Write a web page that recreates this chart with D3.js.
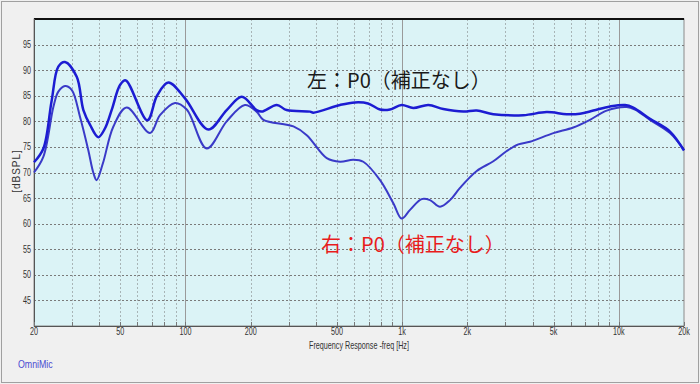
<!DOCTYPE html>
<html>
<head>
<meta charset="utf-8">
<script src="https://cdn.jsdelivr.net/npm/d3@7"></script>
<style>
  body { margin: 0; background: #f0f0f0; }
  .tick-label { font-family: "Liberation Sans", Arial, sans-serif; font-size: 10px; fill: #333; }
  .note { font-family: "Noto Sans CJK JP", sans-serif; font-size: 20px; }
</style>
</head>
<body>
<div id="chart"></div>
<script>
// 左 (upper) curve
const leftFreq = [20, 22.1, 24.1, 25.9, 27.8, 31.5, 33.8, 36.3, 39.6, 42.5, 45.8, 49.9, 53.0, 66.7, 73.9, 83.4, 99.5,
  127.5, 155, 182, 213, 225, 264, 293, 376, 389, 517, 606, 696, 791, 879, 995, 1126, 1321, 1549, 1916, 2210,
  2636, 3626, 4650, 5750, 6622, 7628, 9108, 10686, 11668, 13932, 17236, 20000];
const leftDb = [72.0, 74.7, 83.9, 90.7, 91.6, 88.7, 82.2, 79.3, 76.9, 78.6, 82.4, 87.1, 88.0, 80.2, 85.0, 87.6, 84.5,
  78.4, 82.2, 84.8, 82.2, 81.9, 83.2, 82.2, 81.9, 81.7, 83.2, 83.7, 83.5, 82.3, 82.3, 83.2, 82.6, 83.2, 82.4, 81.9, 82.1,
  81.4, 81.2, 81.8, 81.4, 81.5, 82.1, 82.9, 83.2, 82.7, 80.5, 78.0, 74.3];

// 右 (lower) curve
const rightFreq = [20, 22.1, 24.6, 25.9, 27.8, 29.9, 32.6, 35.6, 37.6, 38.9, 41.6, 46.5, 53.6, 68.6, 76.3, 89.5, 101.4,
  125.4, 155, 188, 213, 229, 315, 363, 449, 517, 595, 662, 791, 911, 995, 1088, 1231, 1345, 1496, 1664,
  1850, 2210, 2636, 3040, 3438, 3894, 4988, 6166, 7364, 8796, 10882, 11880, 13932, 17236, 20000];
const rightDb = [70.0, 73.1, 82.9, 85.8, 86.9, 86.1, 80.9, 74.4, 69.9, 68.5, 71.8, 79.0, 82.7, 77.7, 81.2, 83.6, 82.3,
  74.7, 80.0, 83.2, 81.9, 80.3, 79.0, 77.3, 72.8, 72.1, 72.5, 72.1, 68.5, 64.0, 61.0, 62.7, 64.8, 64.6, 63.3, 64.6,
  67.0, 70.3, 72.2, 74.2, 75.5, 76.0, 77.7, 78.8, 80.3, 82.1, 82.8, 82.3, 80.3, 77.7, 74.4];

const yTicks = [45, 50, 55, 60, 65, 70, 75, 80, 85, 90, 95];
const xLabelTicks = [20, 50, 100, 200, 500, 1000, 2000, 5000, 10000, 20000];
const xLabelText = ['20', '50', '100', '200', '500', '1k', '2k', '5k', '10k', '20k'];
const majorLines = [100, 1000, 10000];

const width = 700;
const height = 384;
const plot = { left: 34, right: 684, top: 19, bottom: 326 };
const narrow = 0.72;

const svg = d3.select('#chart')
  .append('svg')
  .attr('width', width)
  .attr('height', height);

svg.append('rect')
  .attr('x', 1.5).attr('y', 1.5)
  .attr('width', width - 3).attr('height', height - 3)
  .attr('fill', '#f0f0f0')
  .attr('stroke', '#a0a0a0');

const x = d3.scaleLog()
  .domain([20, 20000])
  .range([plot.left, plot.right]);

const y = d3.scaleLinear()
  .domain([40, 100])
  .range([plot.bottom, plot.top]);

svg.append('rect')
  .attr('x', plot.left).attr('y', plot.top)
  .attr('width', plot.right - plot.left)
  .attr('height', plot.bottom - plot.top)
  .attr('fill', '#dbf3f6')
  .attr('stroke', '#8a8a8a');

// vertical grid
const minorFreqs = x.ticks().filter(f => f > 20 && f < 20000 && !majorLines.includes(f));
svg.append('g')
  .selectAll('line')
  .data(minorFreqs)
  .enter().append('line')
  .attr('x1', d => Math.round(x(d)) + 0.5)
  .attr('x2', d => Math.round(x(d)) + 0.5)
  .attr('y1', plot.top)
  .attr('y2', plot.bottom)
  .attr('stroke', '#a8b4b6')
  .attr('stroke-dasharray', '2,2');

svg.append('g')
  .selectAll('line')
  .data(majorLines)
  .enter().append('line')
  .attr('x1', d => Math.round(x(d)) + 0.5)
  .attr('x2', d => Math.round(x(d)) + 0.5)
  .attr('y1', plot.top)
  .attr('y2', plot.bottom)
  .attr('stroke', '#9a9a9a');

// horizontal grid
svg.append('g')
  .selectAll('line')
  .data(yTicks)
  .enter().append('line')
  .attr('x1', plot.left)
  .attr('x2', plot.right)
  .attr('y1', d => Math.round(y(d)) + 0.5)
  .attr('y2', d => Math.round(y(d)) + 0.5)
  .attr('stroke', '#7a7a7a')
  .attr('stroke-dasharray', '2,2');

// axes lines
svg.append('line')
  .attr('x1', plot.left).attr('x2', plot.right)
  .attr('y1', plot.top).attr('y2', plot.top)
  .attr('stroke', '#111').attr('stroke-width', 2);

svg.append('line')
  .attr('x1', plot.left + 0.5).attr('x2', plot.left + 0.5)
  .attr('y1', plot.top).attr('y2', plot.bottom)
  .attr('stroke', '#555');

svg.append('line')
  .attr('x1', plot.left).attr('x2', plot.right)
  .attr('y1', plot.bottom + 0.5).attr('y2', plot.bottom + 0.5)
  .attr('stroke', '#555');

// small ticks on x axis
svg.append('g')
  .selectAll('line')
  .data(x.ticks())
  .enter().append('line')
  .attr('x1', d => Math.round(x(d)) + 0.5)
  .attr('x2', d => Math.round(x(d)) + 0.5)
  .attr('y1', plot.bottom - 4)
  .attr('y2', plot.bottom)
  .attr('stroke', '#777');

// tick labels (condensed look via horizontal scale)
svg.append('g')
  .selectAll('text')
  .data(yTicks)
  .enter().append('text')
  .attr('class', 'tick-label')
  .attr('transform', d => `translate(${plot.left - 3},${y(d) + 3.5}) scale(${narrow},1)`)
  .attr('text-anchor', 'end')
  .text(d => d);

svg.append('g')
  .selectAll('text')
  .data(xLabelTicks)
  .enter().append('text')
  .attr('class', 'tick-label')
  .attr('transform', d => `translate(${x(d)},${plot.bottom + 9}) scale(${narrow},1)`)
  .attr('text-anchor', 'middle')
  .text((d, i) => xLabelText[i]);

svg.append('text')
  .attr('class', 'tick-label')
  .attr('transform', `translate(359,349) scale(${narrow},1)`)
  .attr('text-anchor', 'middle')
  .text('Frequency Response -freq [Hz]');

svg.append('text')
  .attr('class', 'tick-label')
  .attr('transform', 'translate(20,171) rotate(-90)')
  .attr('text-anchor', 'middle')
  .style('letter-spacing', '1px')
  .text('[dBSPL]');

svg.append('text')
  .attr('class', 'tick-label')
  .attr('transform', `translate(18,368) scale(0.8,1)`)
  .style('fill', '#4a4ad0')
  .style('font-size', '11px')
  .text('OmniMic');

// curves
const line = d3.line()
  .x(d => x(d[0]))
  .y(d => y(d[1]))
  .curve(d3.curveCatmullRom.alpha(0.5));

svg.append('path')
  .attr('d', line(rightFreq.map((f, i) => [f, rightDb[i]])))
  .attr('fill', 'none')
  .attr('stroke', '#3a3ac8')
  .attr('stroke-width', 2);

svg.append('path')
  .attr('d', line(leftFreq.map((f, i) => [f, leftDb[i]])))
  .attr('fill', 'none')
  .attr('stroke', '#1c1cd2')
  .attr('stroke-width', 2.5);

// notes
svg.append('text')
  .attr('class', 'note')
  .attr('x', 307)
  .attr('y', 88)
  .attr('fill', '#1a1a1a')
  .text('左：P0（補正なし）');

svg.append('text')
  .attr('class', 'note')
  .attr('x', 321)
  .attr('y', 252)
  .attr('fill', '#e81c1c')
  .text('右：P0（補正なし）');
</script>
</body>
</html>
